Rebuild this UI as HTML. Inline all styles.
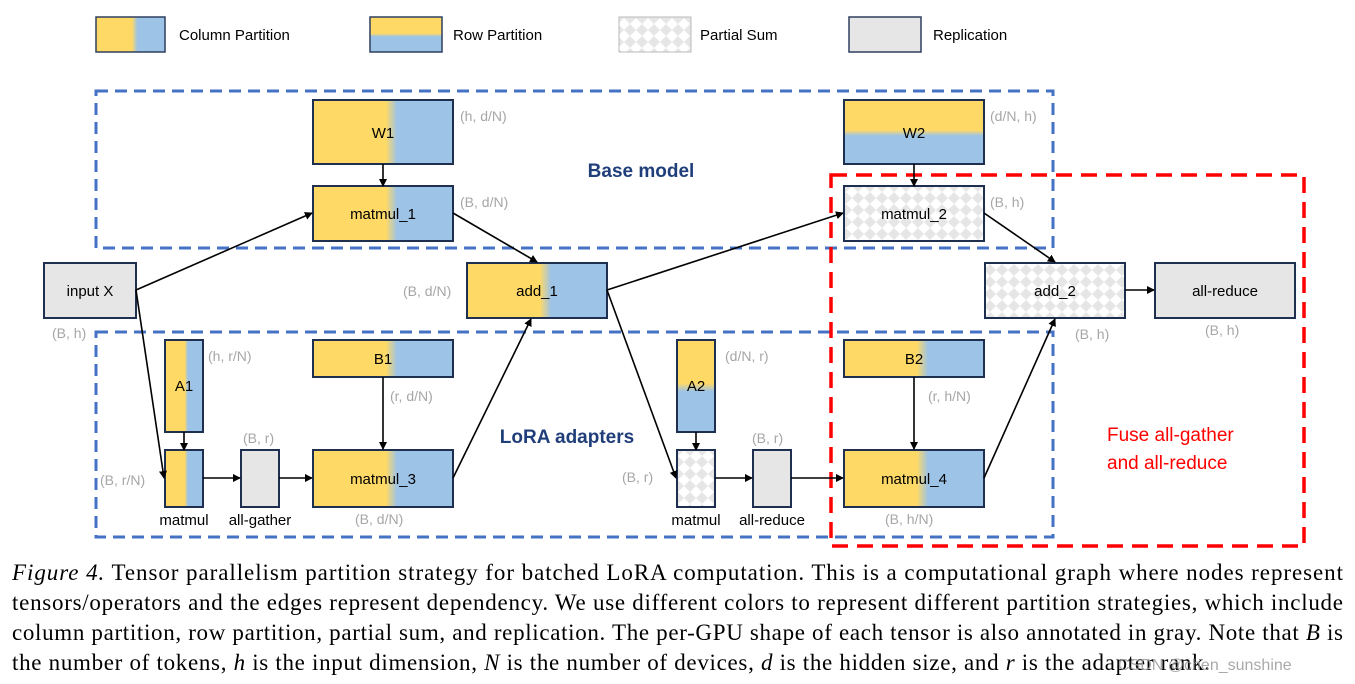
<!DOCTYPE html>
<html><head><meta charset="utf-8"><style>
html,body{margin:0;padding:0;background:#fff;}
svg{display:block}
.s{font-family:"Liberation Sans",sans-serif;}
.g{font-family:"Liberation Sans",sans-serif;font-size:14px;fill:#a6a6a6;}
.n{font-family:"Liberation Sans",sans-serif;font-size:15px;fill:#000;text-anchor:middle;}
.c{font-family:"Liberation Serif",serif;font-size:23px;fill:#000;}
</style></head><body>
<svg width="1355" height="684" viewBox="0 0 1355 684" xmlns="http://www.w3.org/2000/svg">
<defs>
<linearGradient id="col" x1="0" x2="1" y1="0" y2="0">
<stop offset="0.52" stop-color="#FFD966"/><stop offset="0.6" stop-color="#9DC3E6"/></linearGradient>
<linearGradient id="row" x1="0" x2="0" y1="0" y2="1">
<stop offset="0.47" stop-color="#FFD966"/><stop offset="0.56" stop-color="#9DC3E6"/></linearGradient>
<pattern id="chk" width="12" height="12" patternUnits="userSpaceOnUse">
<rect width="12" height="12" fill="#fff"/>
<path d="M6 0 L12 6 L6 12 L0 6Z" fill="#e6e6e6"/></pattern>
<marker id="ar" markerWidth="8" markerHeight="8" refX="7" refY="4" orient="auto" markerUnits="userSpaceOnUse">
<path d="M0 0 L8 4 L0 8Z" fill="#000"/></marker>
</defs>

<rect x="96" y="17" width="69" height="35" fill="url(#col)" stroke="#2f3f5f" stroke-width="1.5"/>
<text x="179" y="40" class="s" font-size="15">Column Partition</text>
<rect x="370" y="17" width="72" height="35" fill="url(#row)" stroke="#2f3f5f" stroke-width="1.5"/>
<text x="453" y="40" class="s" font-size="15">Row Partition</text>
<rect x="619" y="17" width="72" height="35" fill="url(#chk)" stroke="#bbb" stroke-width="1"/>
<text x="700" y="40" class="s" font-size="15">Partial Sum</text>
<rect x="849" y="17" width="72" height="35" fill="#e6e6e6" stroke="#2f3f5f" stroke-width="1.5"/>
<text x="933" y="40" class="s" font-size="15">Replication</text>

<rect x="96" y="91" width="957" height="157" fill="none" stroke="#4472C4" stroke-width="3" stroke-dasharray="12,7"/>
<rect x="96" y="332" width="957" height="205" fill="none" stroke="#4472C4" stroke-width="3" stroke-dasharray="12,7"/>
<rect x="831" y="175" width="473" height="371" fill="none" stroke="#FF0000" stroke-width="3.5" stroke-dasharray="16,9"/>

<text x="641" y="177" class="s" font-size="19" font-weight="bold" fill="#1F3E7A" text-anchor="middle">Base model</text>
<text x="567" y="443" class="s" font-size="19" font-weight="bold" fill="#1F3E7A" text-anchor="middle">LoRA adapters</text>
<text x="1107" y="441" class="s" font-size="19" fill="#FF0000">Fuse all-gather</text>
<text x="1107" y="469" class="s" font-size="19" fill="#FF0000">and all-reduce</text>

<g stroke="#1F2F50" stroke-width="2">
<rect x="313" y="100" width="140" height="64" fill="url(#col)"/>
<rect x="313" y="186" width="140" height="55" fill="url(#col)"/>
<rect x="44" y="263" width="92" height="55" fill="#e6e6e6"/>
<rect x="467" y="263" width="140" height="55" fill="url(#col)"/>
<rect x="844" y="100" width="140" height="64" fill="url(#row)"/>
<rect x="844" y="186" width="140" height="55" fill="url(#chk)"/>
<rect x="985" y="263" width="140" height="55" fill="url(#chk)"/>
<rect x="1155" y="263" width="140" height="55" fill="#e6e6e6"/>
<rect x="165" y="340" width="38" height="92" fill="url(#col)"/>
<rect x="313" y="340" width="140" height="37" fill="url(#col)"/>
<rect x="165" y="450" width="38" height="57" fill="url(#col)"/>
<rect x="241" y="450" width="38" height="57" fill="#e6e6e6"/>
<rect x="313" y="450" width="140" height="57" fill="url(#col)"/>
<rect x="677" y="340" width="38" height="92" fill="url(#row)"/>
<rect x="677" y="450" width="38" height="57" fill="url(#chk)"/>
<rect x="753" y="450" width="38" height="57" fill="#e6e6e6"/>
<rect x="844" y="340" width="140" height="37" fill="url(#col)"/>
<rect x="844" y="450" width="140" height="57" fill="url(#col)"/>
</g>

<text x="383" y="138" class="n">W1</text>
<text x="383" y="219" class="n">matmul_1</text>
<text x="90" y="296" class="n">input X</text>
<text x="537" y="296" class="n">add_1</text>
<text x="914" y="138" class="n">W2</text>
<text x="914" y="219" class="n">matmul_2</text>
<text x="1055" y="296" class="n">add_2</text>
<text x="1225" y="296" class="n">all-reduce</text>
<text x="184" y="391" class="n">A1</text>
<text x="383" y="364" class="n">B1</text>
<text x="383" y="484" class="n">matmul_3</text>
<text x="696" y="391" class="n">A2</text>
<text x="914" y="364" class="n">B2</text>
<text x="914" y="484" class="n">matmul_4</text>
<text x="184" y="525" class="n" font-size="14">matmul</text>
<text x="260" y="525" class="n" font-size="14">all-gather</text>
<text x="696" y="525" class="n" font-size="14">matmul</text>
<text x="772" y="525" class="n" font-size="14">all-reduce</text>

<g class="g">
<text x="460" y="121">(h, d/N)</text>
<text x="460" y="207">(B, d/N)</text>
<text x="403" y="296">(B, d/N)</text>
<text x="52" y="338">(B, h)</text>
<text x="208" y="361">(h, r/N)</text>
<text x="390" y="401">(r, d/N)</text>
<text x="243" y="443">(B, r)</text>
<text x="100" y="485">(B, r/N)</text>
<text x="355" y="524">(B, d/N)</text>
<text x="990" y="121">(d/N, h)</text>
<text x="990" y="207">(B, h)</text>
<text x="1075" y="339">(B, h)</text>
<text x="1205" y="335">(B, h)</text>
<text x="725" y="361">(d/N, r)</text>
<text x="752" y="443">(B, r)</text>
<text x="622" y="482">(B, r)</text>
<text x="928" y="401">(r, h/N)</text>
<text x="885" y="524">(B, h/N)</text>
</g>

<g stroke="#000" stroke-width="1.6" fill="none" marker-end="url(#ar)">
<line x1="383" y1="164" x2="383" y2="186"/>
<line x1="914" y1="164" x2="914" y2="186"/>
<line x1="136" y1="290" x2="312" y2="213"/>
<line x1="136" y1="290" x2="164" y2="478"/>
<line x1="453" y1="213" x2="537" y2="262"/>
<line x1="607" y1="290" x2="843" y2="213"/>
<line x1="607" y1="290" x2="676" y2="478"/>
<line x1="453" y1="478" x2="531" y2="319"/>
<line x1="984" y1="213" x2="1055" y2="262"/>
<line x1="984" y1="478" x2="1055" y2="319"/>
<line x1="1125" y1="290" x2="1154" y2="290"/>
<line x1="184" y1="432" x2="184" y2="450"/>
<line x1="696" y1="432" x2="696" y2="450"/>
<line x1="203" y1="478" x2="240" y2="478"/>
<line x1="279" y1="478" x2="312" y2="478"/>
<line x1="715" y1="478" x2="752" y2="478"/>
<line x1="791" y1="478" x2="843" y2="478"/>
<line x1="383" y1="377" x2="383" y2="449"/>
<line x1="914" y1="377" x2="914" y2="449"/>
</g>

<text x="12" y="580" class="c" textLength="1331" lengthAdjust="spacing"><tspan font-style="italic">Figure 4.</tspan> Tensor parallelism partition strategy for batched LoRA computation. This is a computational graph where nodes represent</text>
<text x="12" y="610" class="c" textLength="1331" lengthAdjust="spacing">tensors/operators and the edges represent dependency. We use different colors to represent different partition strategies, which include</text>
<text x="12" y="640" class="c" textLength="1331" lengthAdjust="spacing">column partition, row partition, partial sum, and replication. The per-GPU shape of each tensor is also annotated in gray. Note that <tspan font-style="italic">B</tspan> is</text>
<text x="12" y="670" class="c" textLength="1198" lengthAdjust="spacing">the number of tokens, <tspan font-style="italic">h</tspan> is the input dimension, <tspan font-style="italic">N</tspan> is the number of devices, <tspan font-style="italic">d</tspan> is the hidden size, and <tspan font-style="italic">r</tspan> is the adapter rank.</text>
<text x="1118" y="670" class="s" font-size="16" fill="#9a9a9a" fill-opacity="0.85">CSDN @chen_sunshine</text>
</svg>
</body></html>
